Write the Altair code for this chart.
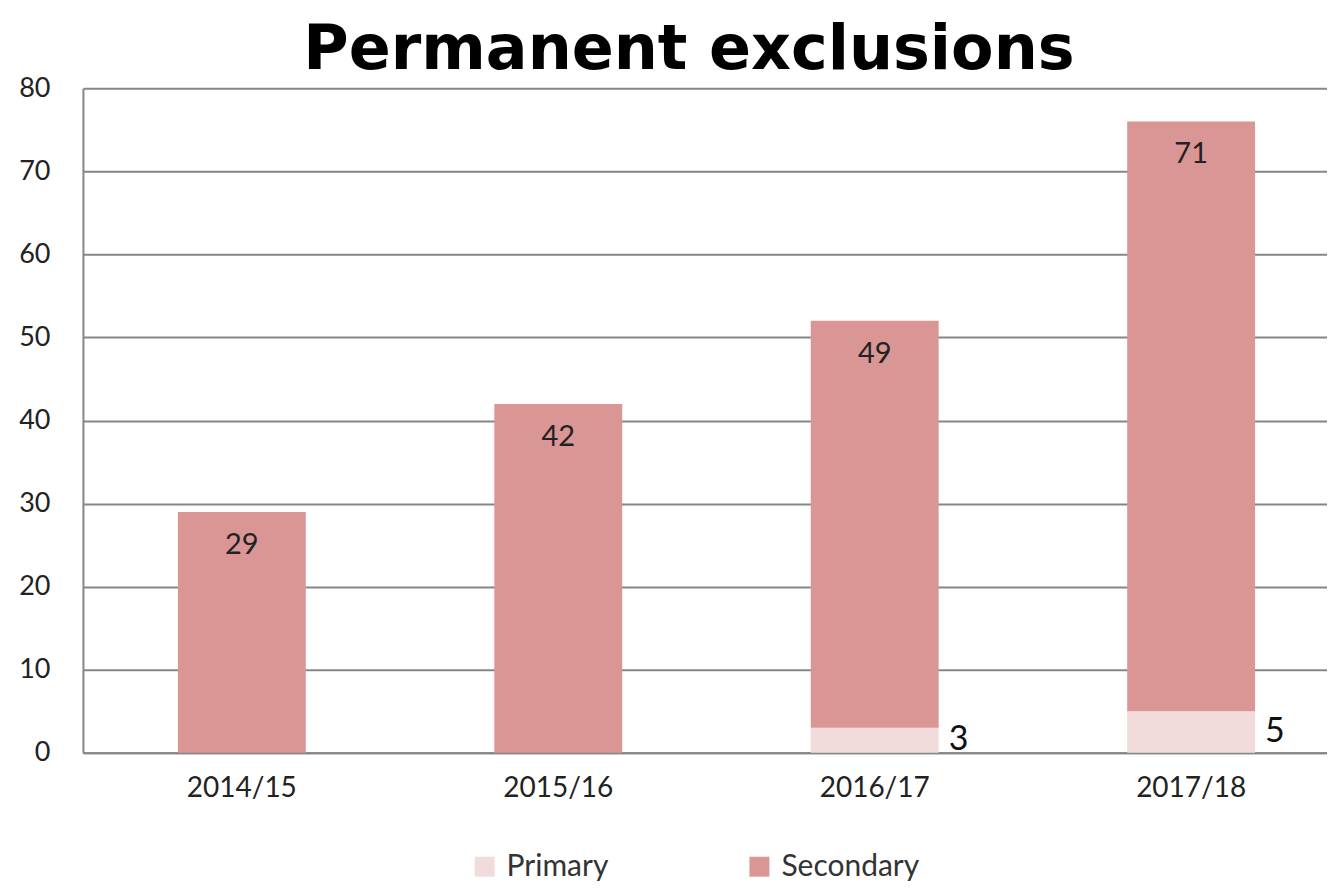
import altair as alt
import pandas as pd

years = ["2014/15", "2015/16", "2016/17", "2017/18"]
primary = [0, 0, 3, 5]
secondary = [29, 42, 49, 71]
series = ["Primary", "Secondary"]
colors = ["#F2DCDB", "#DA9694"]

long_rows = []
for y, p, s in zip(years, primary, secondary):
    long_rows.append({"year": y, "type": "Primary", "value": p, "ord": 0})
    long_rows.append({"year": y, "type": "Secondary", "value": s, "ord": 1})
long_df = pd.DataFrame(long_rows)
wide_df = pd.DataFrame({"year": years, "primary": primary, "secondary": secondary})

FONT = "Lato"
GRID = "#868686"

x_scale = alt.Scale(paddingInner=0.5958, paddingOuter=0.2637, align=0.569)
x_enc = alt.X("year:N", scale=x_scale, sort=years,
              axis=alt.Axis(title=None, labelAngle=0, labelFontSize=28, labelFont=FONT,
                            labelColor="#222222", ticks=False, domain=True,
                            domainColor=GRID, domainWidth=2, labelPadding=22))
y_scale = alt.Scale(domain=[0, 80], nice=False)

bars = alt.Chart(long_df).mark_bar(stroke=None).encode(
    x=x_enc,
    y=alt.Y("value:Q", stack="zero", scale=y_scale,
            axis=alt.Axis(title=None, values=list(range(0, 81, 10)), grid=True,
                          gridColor=GRID, gridWidth=2, domain=True, domainColor=GRID,
                          domainWidth=2, ticks=False, labelFontSize=27, labelFont=FONT,
                          labelColor="#222222", labelPadding=33)),
    color=alt.Color("type:N", scale=alt.Scale(domain=series, range=colors),
                    legend=alt.Legend(title=None, orient="none", direction="horizontal",
                                      legendX=387, legendY=764, symbolType="square",
                                      symbolSize=400, symbolStrokeWidth=0,
                                      labelFontSize=30, labelFont=FONT, labelColor="#333333",
                                      labelOffset=7, columnPadding=136, padding=0)),
    order=alt.Order("ord:Q"),
)

sec_labels = alt.Chart(wide_df).transform_calculate(
    total="datum.primary + datum.secondary"
).mark_text(fontSize=29, font=FONT, color="#222222", baseline="middle", dy=33).encode(
    x=alt.X("year:N", scale=x_scale, sort=years),
    y=alt.Y("total:Q", scale=y_scale),
    text=alt.Text("secondary:Q"),
)

prim_labels = alt.Chart(wide_df).transform_filter(
    "datum.primary > 0"
).transform_calculate(
    mid="datum.primary / 2"
).mark_text(fontSize=34, font=FONT, color="#111111", baseline="middle", align="left", dx=74).encode(
    x=alt.X("year:N", scale=x_scale, sort=years),
    y=alt.Y("mid:Q", scale=y_scale),
    text=alt.Text("primary:Q"),
)

chart = alt.layer(bars, sec_labels, prim_labels).properties(
    width=1245, height=665,
    title=alt.TitleParams("Permanent exclusions", fontSize=62, font="DejaVu Sans", fontWeight="bold",
                          color="#000000", anchor="middle", dx=-16, dy=22, offset=14),
    autosize=alt.AutoSizeParams(type="none"),
    padding={"left": 75, "top": 80, "right": 0, "bottom": 128},
).configure_view(stroke=None)

chart.save("out.html", embed_options={"renderer": "svg", "actions": False})
